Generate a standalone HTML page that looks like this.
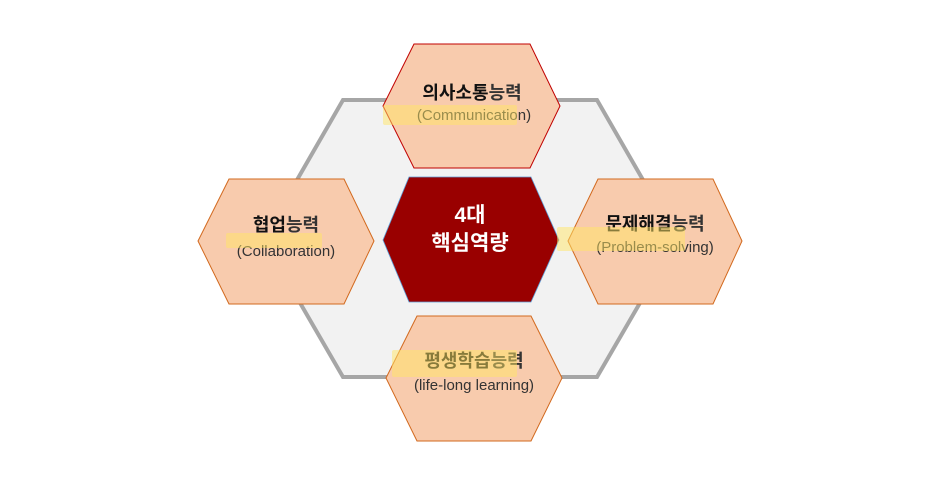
<!DOCTYPE html>
<html><head><meta charset="utf-8"><style>
html,body{margin:0;padding:0;background:#fff;}
svg{display:block;}
text{font-family:"Liberation Sans","Noto Sans CJK KR","NanumGothic",sans-serif;}
.t{font-size:18px;font-weight:bold;fill:#111;}
.s{font-size:15px;fill:#333;}
.c{font-size:21px;font-weight:bold;fill:#fff;}
</style></head><body>
<svg width="940" height="485" viewBox="0 0 940 485" xmlns="http://www.w3.org/2000/svg">
<polygon points="343,100 597,100 677,239 597,377 343,377 263,239" fill="#f2f2f2" stroke="#a6a6a6" stroke-width="4"/>
<polygon points="414,44 530,44 560,106 530,168 414,168 383,106" fill="#f8cbad" stroke="#c00000" stroke-width="1"/>
<polygon points="409,177 531,177 559,240 531,302 409,302 383,240" fill="#990000" stroke="#5b9bd5" stroke-width="0.8"/>
<polygon points="229,179 344,179 374,241 344,304 229,304 198,241" fill="#f8cbad" stroke="#d2691e" stroke-width="1"/>
<polygon points="598,179 713,179 742,241 713,304 598,304 568,241" fill="#f8cbad" stroke="#d2691e" stroke-width="1"/>
<polygon points="417,316 531,316 562,378 531,441 417,441 386,378" fill="#f8cbad" stroke="#d2691e" stroke-width="1"/>

<text class="t" x="472" y="99" text-anchor="middle">의사소통<tspan fill="#333">능력</tspan></text>
<text class="s" x="474" y="120" text-anchor="middle">(Communication)</text>

<text class="c" x="470" y="222" text-anchor="middle">4대</text>
<text class="c" x="470" y="250" text-anchor="middle">핵심역량</text>

<text class="t" x="286" y="231" text-anchor="middle">협업<tspan fill="#333">능력</tspan></text>
<text class="s" x="286" y="256" text-anchor="middle">(Collaboration)</text>

<text class="t" x="655" y="230" text-anchor="middle">문제해결<tspan fill="#333">능력</tspan></text>
<text class="s" x="655" y="252" text-anchor="middle">(Problem-solving)</text>

<text class="t" x="474" y="367" text-anchor="middle">평생학습<tspan fill="#333">능력</tspan></text>
<text class="s" x="474" y="390" text-anchor="middle">(life-long learning)</text>

<rect x="383" y="105" width="134" height="20" rx="2" fill="#ffe566" opacity="0.5"/>
<rect x="226" y="233" width="96" height="15" rx="2" fill="#ffe566" opacity="0.5"/>
<rect x="557" y="227" width="128" height="24" rx="2" fill="#ffe566" opacity="0.5"/>
<rect x="392" y="350" width="125" height="27" rx="2" fill="#ffe566" opacity="0.5"/>
</svg>
</body></html>
